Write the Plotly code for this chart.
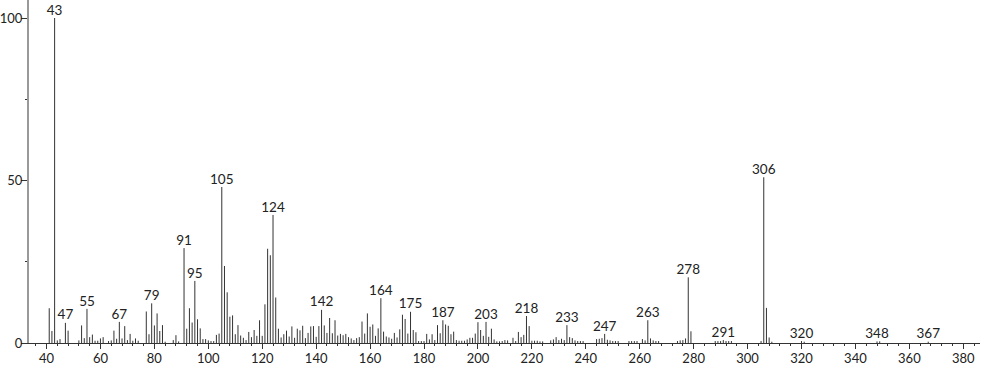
import plotly.graph_objects as go

# m/z values and relative intensities (%)
mz = [41, 42, 43, 44, 45, 47, 48, 52, 53, 54, 55, 56, 57, 58, 59, 60, 61,
      63, 64, 65, 66, 67, 68, 69, 70, 71, 72, 73, 74, 77, 78, 79, 80, 81,
      82, 83, 84, 87, 88, 89, 91, 92, 93, 94, 95, 96, 97, 98, 99, 100,
      101, 102, 103, 104, 105, 106, 107, 108, 109, 110, 111, 112, 113, 114,
      115, 116, 117, 118, 119, 120, 121, 122, 123, 124, 125, 126, 127, 128,
      129, 130, 131, 132, 133, 134, 135, 136, 137, 138, 139, 140, 141, 142,
      143, 144, 145, 146, 147, 148, 149, 150, 151, 152, 153, 154, 155, 156,
      157, 158, 159, 160, 161, 162, 163, 164, 165, 166, 167, 168, 169, 170,
      171, 172, 173, 174, 175, 176, 177, 178, 179, 180, 181, 182, 183, 184,
      185, 186, 187, 188, 189, 190, 191, 192, 193, 194, 195, 196, 197, 198,
      199, 200, 201, 202, 203, 204, 205, 206, 207, 208, 209, 210, 211, 213,
      214, 215, 216, 217, 218, 219, 220, 221, 222, 223, 224, 227, 228, 229,
      230, 231, 232, 233, 234, 235, 236, 237, 238, 239, 244, 245, 246, 247,
      248, 249, 250, 251, 252, 256, 257, 258, 259, 261, 262, 263, 264, 265,
      266, 267, 274, 275, 276, 277, 278, 279, 288, 289, 290, 291, 292, 293,
      294, 305, 306, 307, 308, 309, 320, 321, 348, 349, 367]

intensity = [10.7, 3.7, 100, 0.8, 1.2, 6.2, 3.8, 0.8, 5.4, 1.5, 10.5, 1.8, 2.6, 0.7, 0.7, 1.4, 1.8,
             0.6, 0.8, 3.8, 1.3, 6.5, 1.4, 5.2, 0.9, 2.8, 0.7, 1.4, 0.7, 9.7, 2.7, 12.2, 5.4, 9.1,
             3.7, 5.5, 0.4, 0.9, 2.4, 0.5, 29.2, 4.4, 10.7, 6.3, 19.1, 7.3, 4.5, 1.2, 1.2, 0.8,
             0.6, 0.6, 2.5, 2.9, 48.0, 23.7, 15.6, 8.1, 8.5, 2.7, 5.5, 2.3, 1.6, 0.9,
             3.4, 1.8, 4.0, 2.2, 7.0, 2.2, 11.9, 29.0, 27.0, 39.4, 14.0, 4.4, 1.7, 2.7,
             3.8, 2.0, 5.1, 1.6, 4.4, 3.9, 5.3, 1.5, 3.1, 5.1, 5.2, 1.9, 5.2, 10.2,
             5.4, 3.1, 7.7, 3.0, 7.0, 2.3, 2.8, 2.4, 2.8, 1.8, 1.4, 0.9, 1.5, 1.8,
             6.6, 2.9, 9.1, 5.0, 5.7, 2.2, 4.5, 13.8, 3.5, 2.0, 1.7, 1.3, 3.1, 1.7,
             4.2, 8.7, 7.4, 2.9, 9.6, 4.0, 3.3, 0.6, 0.6, 0.6, 2.8, 1.1, 2.7, 0.9,
             5.5, 3.0, 7.0, 5.7, 5.3, 2.7, 3.5, 0.9, 0.7, 0.7, 0.7, 1.1, 1.6, 1.6,
             2.9, 6.4, 4.0, 2.2, 6.5, 1.9, 4.4, 1.1, 0.5, 0.5, 0.6, 0.9, 0.8, 1.6,
             0.6, 3.4, 1.8, 2.5, 8.3, 5.2, 0.7, 0.7, 0.7, 0.5, 0.5, 0.8, 1.1, 1.8,
             0.9, 1.3, 0.9, 5.5, 1.8, 1.5, 0.8, 0.6, 0.6, 0.6, 1.2, 1.3, 1.5, 2.8,
             1.0, 0.8, 0.6, 0.6, 0.6, 0.6, 0.6, 0.6, 0.6, 1.2, 0.8, 7.0, 1.4, 0.8,
             0.6, 0.6, 0.6, 0.8, 0.9, 1.4, 20.2, 3.6, 0.6, 0.6, 0.6, 0.9, 0.6, 0.6,
             0.6, 0.6, 51.0, 10.8, 1.7, 0.4, 0.6, 0.4, 0.5, 0.5, 0.4]

labeled_mz = [43, 47, 55, 67, 79, 91, 95, 105, 124, 142, 164, 175, 187, 203,
              218, 233, 247, 263, 278, 291, 306, 320, 348, 367]

x_ticks = [40, 60, 80, 100, 120, 140, 160, 180, 200, 220, 240, 260, 280, 300,
           320, 340, 360, 380]
y_ticks = [0, 50, 100]

lookup = dict(zip(mz, intensity))
label_y = [lookup[m] for m in labeled_mz]

# stick spectrum: each peak a vertical line from 0 to its intensity
xs, ys = [], []
for m, v in zip(mz, intensity):
    xs += [m, m, None]
    ys += [0, v, None]

FONT = "Lato"

fig = go.Figure()
fig.add_trace(go.Scatter(x=xs, y=ys, mode="lines",
                         line=dict(color="#333333", width=1),
                         hoverinfo="skip", showlegend=False))
fig.add_trace(go.Scatter(x=labeled_mz, y=label_y, mode="text",
                         text=[str(m) for m in labeled_mz],
                         textposition="top center",
                         textfont=dict(family=FONT, size=13.5, color="#222222"),
                         cliponaxis=False, showlegend=False, hoverinfo="skip"))

fig.update_layout(
    width=982, height=365,
    margin=dict(l=29, r=2, t=0, b=22, autoexpand=False),
    paper_bgcolor="white", plot_bgcolor="white",
    font=dict(family=FONT, size=13, color="#222222"),
    xaxis=dict(range=[33.5, 386.2], tickvals=x_ticks, ticktext=[str(t) for t in x_ticks],
               showgrid=False, zeroline=False, showline=True, linecolor="#333333",
               linewidth=1, ticks="outside", ticklen=5, tickcolor="#333333",
               automargin=False, ticklabelstandoff=-2,
               tickfont=dict(family=FONT, size=13, color="#222222"),
               minor=dict(dtick=4, tick0=0, ticks="outside", ticklen=2, tickcolor="#333333"),
               ),
    yaxis=dict(range=[0, 105.54], tickvals=y_ticks, ticktext=[str(t) for t in y_ticks],
               showgrid=False, zeroline=False, showline=True, linecolor="#999999",
               linewidth=2, ticks="outside", ticklen=6, tickcolor="#333333",
               automargin=False, ticklabelstandoff=-4,
               tickfont=dict(family=FONT, size=13, color="#222222"),
               minor=dict(tickvals=[25, 75], ticks="outside", ticklen=2, tickcolor="#333333"),
               ),
)

fig.write_html("out.html")
